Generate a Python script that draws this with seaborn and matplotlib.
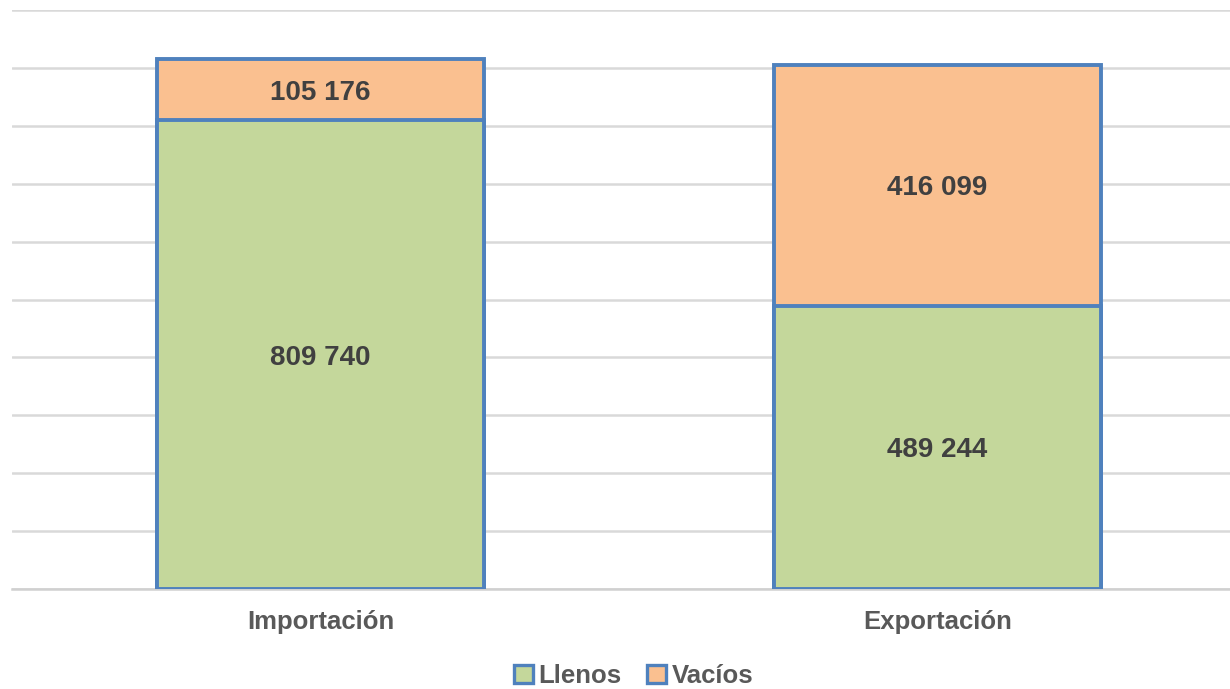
import matplotlib
matplotlib.use("Agg")
import matplotlib.pyplot as plt
from matplotlib.patches import Patch
import seaborn as sns
import pandas as pd

categorias = ["Importación", "Exportación"]
llenos = [809740, 489244]
vacios = [105176, 416099]
series = ["Llenos", "Vacíos"]

C_LLENOS = "#c4d79b"
C_VACIOS = "#fac090"
C_EDGE = "#4f81bd"
C_TEXT = "#404040"
C_TICK = "#595959"

sns.set_theme(style="white")
plt.rcParams["font.family"] = ["Liberation Sans", "DejaVu Sans"]

df = pd.DataFrame({"cat": categorias, "llenos": llenos, "vacios": vacios})
df["total"] = df["llenos"] + df["vacios"]

fig = plt.figure(figsize=(12.3, 6.89), dpi=100)
ax = fig.add_axes([12 / 1230, 100 / 689, 1234 / 1230, 579 / 689])

sns.barplot(data=df, x="cat", y="total", color=C_VACIOS, edgecolor=C_EDGE,
            linewidth=2.8, width=0.53, saturation=1, ax=ax, zorder=3)
sns.barplot(data=df, x="cat", y="llenos", color=C_LLENOS, edgecolor=C_EDGE,
            linewidth=2.8, width=0.53, saturation=1, ax=ax, zorder=3)

def fmt(v):
    return f"{v:,}".replace(",", " ")

for i, (l, v) in enumerate(zip(llenos, vacios)):
    ax.text(i, l / 2, fmt(l), ha="center", va="center_baseline", fontsize=20,
            fontweight="bold", color=C_TEXT, zorder=5)
    ax.text(i, l + v / 2, fmt(v), ha="center", va="center_baseline", fontsize=20,
            fontweight="bold", color=C_TEXT, zorder=5)

ax.set_xlim(-0.5, 1.5)
ax.set_ylim(0, 1000000)
ax.set_yticks(range(0, 1000001, 100000))
ax.set_yticklabels([])
ax.yaxis.grid(True, color="#d9d9d9", linewidth=1.8, zorder=0)
ax.set_axisbelow(True)
ax.tick_params(axis="y", length=0)
ax.tick_params(axis="x", length=0, pad=15, labelsize=18.5, labelcolor=C_TICK)
for lbl in ax.get_xticklabels():
    lbl.set_fontweight("bold")
ax.set_xlabel("")
ax.set_ylabel("")
for s in ["top", "right", "left"]:
    ax.spines[s].set_visible(False)
ax.spines["bottom"].set_color("#d0d0d0")
ax.spines["bottom"].set_linewidth(1.8)
ax.spines["bottom"].set_zorder(2)

handles = [Patch(facecolor=C_LLENOS, edgecolor=C_EDGE, linewidth=2.4),
           Patch(facecolor=C_VACIOS, edgecolor=C_EDGE, linewidth=2.4)]
leg = fig.legend(handles, series, loc="center", bbox_to_anchor=(0.515, 13 / 689),
                 ncol=2, frameon=False, handlelength=0.75, handleheight=0.75,
                 handletextpad=0.2, columnspacing=1.0,
                 prop={"size": 18.5, "weight": "bold"})
for t in leg.get_texts():
    t.set_color(C_TICK)

fig.savefig("out.png", dpi=100)
